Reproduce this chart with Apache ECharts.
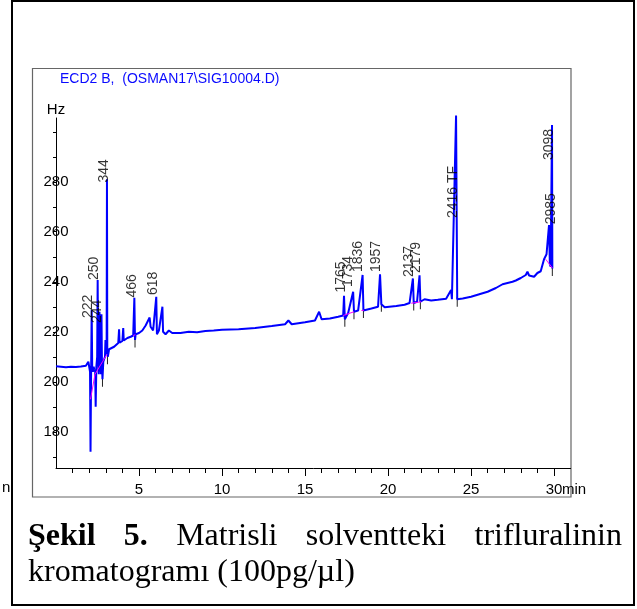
<!DOCTYPE html>
<html>
<head>
<meta charset="utf-8">
<script src="https://cdn.jsdelivr.net/npm/echarts@6/dist/echarts.min.js"></script>
<style>
html,body{margin:0;padding:0;background:#fff;}
#chart{width:637px;height:609px;}
</style>
</head>
<body>
<div id="chart"></div>
<script>
// ---- data (retention time in min, detector signal in Hz) ----
const traceEarly = [
  [0.0,206.2],[0.3,206.0],[0.6,205.8],[0.9,206.0],[1.2,205.9],[1.5,206.1],[1.8,206.4],[1.95,208],
  [2.0,206],[2.05,204],[2.08,172],[2.11,200],[2.15,228.7],[2.18,206],[2.22,204],[2.27,206],
  [2.30,205],[2.36,204],[2.39,190],[2.43,206],[2.48,210],[2.51,240.7],[2.54,208],[2.58,203],
  [2.62,228],[2.65,204],[2.68,226],[2.71,203],[2.74,227],[2.77,206],[2.80,201],[2.85,208],
  [2.90,209],[2.95,210],[2.98,216.7],[3.0,211],[3.05,212],[3.07,281],[3.09,212],[3.12,210],
  [3.2,213],[3.3,212.5],[3.5,214],[3.75,215.5],[3.8,221],[3.83,215.6],[4.0,216.3],[4.05,221.5],
  [4.08,216.5],[4.3,217.5],[4.5,218],[4.65,218.5],[4.72,233.6],[4.76,216.7],[4.8,219],[5.0,219.5],
  [5.2,220.5],[5.4,222.5],[5.5,222.8],[5.64,225.7],[5.7,222],[5.85,220.5],[5.95,220],[6.04,234],
  [6.08,219],[6.2,220.5],[6.3,219.8],[6.41,230],[6.45,220],[6.6,219],[6.8,220.5],[7.0,219.5]
];
const traceMid = [
  [7.5,219.5],[8.0,220],[8.5,219.8],[9.0,220.3],[9.5,220.5],[10.0,220.8],[11.0,221],[12.0,221.5],
  [13.0,222.3],[13.8,223],[14.0,224.5],[14.2,223],[15.0,223.8],[15.6,224.5],[15.85,228],[16.0,225],
  [16.5,225.3],[17.0,226],[17.3,226.5],[17.35,234.4],[17.4,225],[17.6,227.5],[17.9,236],[17.95,228],
  [18.2,228.5],[18.47,242.7],[18.52,228.5],[19.0,229.3],[19.4,230],[19.52,243],[19.6,231],[19.8,229.8],
  [20.5,230.3],[21.0,230.8],[21.3,231.5],[21.5,241.3],[21.55,231.5],[21.75,232],[21.9,242.6],[21.95,232]
];
const traceLate = [
  [22.2,233],[22.6,232.5],[23.0,232.8],[23.5,233.2],[23.8,236.7],[23.85,233],[24.1,306.5],[24.17,233],
  [24.5,233.3],[25.0,234],[25.5,235],[26.0,236],[26.5,237.5],[26.9,239],[27.2,239.5],[27.5,240],
  [27.7,240.5],[28.0,241.5],[28.3,242.7],[28.4,244],[28.5,242.5],[28.8,242],[29.0,243.5],[29.2,244.2],
  [29.4,249],[29.55,251],[29.7,262.7],[29.75,247],[29.8,246],[29.88,302.7],[29.9,245.3]
];
// integration baselines (magenta segments)
const baselineSegments = [
  [[2.08,193],[2.35,203],[2.8,208],[3.07,211]],
  [[4.65,218.5],[4.78,218.8]],
  [[17.3,226.5],[17.95,228]],
  [[18.4,228.5],[18.55,228.6]],
  [[21.4,231.4],[22.0,232]],
  [[29.5,249],[29.9,245.5]]
];
// peak start/end markers (time, signal at baseline)
const markerTimes  = [2.8, 3.1, 4.76, 17.4, 17.95, 18.52, 19.6, 21.55, 21.95, 24.17, 29.9];
const markerValues = [201, 210, 216.7, 225, 228, 228.5, 231, 231.5, 232, 233, 245.3];
// peak labels: anchor time, anchor signal (label foot), text
const labelTimes  = [1.95, 2.32, 2.47, 2.89, 4.58, 5.84, 17.15, 17.62, 18.19, 19.28, 21.3, 21.72, 23.9, 29.82, 29.7];
const labelValues = [225.5, 240.7, 223.5, 279.7, 233.7, 234.7, 235.7, 237.9, 243.9, 243.9, 241.9, 243.5, 265.5, 263, 288.7];
const labelTexts  = ['222','250','244','344','466','618','1765','1734','1836','1957','2137','2179','2416 TF','2985','3098'];
// axes
const xMinorTicks = [1,2,3,4,5,6,7,8,9,10,11,12,13,14,15,16,17,18,19,20,21,22,23,24,25,26,27,28,29,30];
const xMajorTicks = [5,10,15,20,25,30];
const yTicks  = [170,180,190,200,210,220,230,240,250,260,270,280,290,300];
const yLabels = [180,200,220,240,260,280];
const chartTitle = 'ECD2 B,  (OSMAN17\\SIG10004.D)';
const captionLine1 = [['Şekil', true], ['5.', true], ['Matrisli', false], ['solventteki', false], ['trifluralinin', false]];
const captionLine2 = 'kromatogramı (100pg/µl)';

// ---- build ----
const sans = '"Liberation Sans Narrow", "Arial Narrow", "Liberation Sans", Arial, sans-serif';
const serif = '"Liberation Serif", "Times New Roman", serif';
const trace = traceEarly.concat(traceMid, traceLate);
const baselineData = [];
baselineSegments.forEach(s => { s.forEach(p => baselineData.push(p)); baselineData.push(null); });
const markerData = [];
markerTimes.forEach((t, i) => { markerData.push([t, markerValues[i] + 1]); markerData.push([t, markerValues[i] - 3]); markerData.push(null); });
const labelData = labelTimes.map((t, i) => ({ value: [t, labelValues[i]], name: labelTexts[i] }));

// justified caption line
const capSize = 32;
const cv = document.createElement('canvas').getContext('2d');
const widths = captionLine1.map(([w, b]) => { cv.font = (b ? 'bold ' : '') + capSize + 'px ' + serif; return cv.measureText(w).width; });
const capLeft = 28, capRight = 622;
const gap = (capRight - capLeft - widths.reduce((a, b) => a + b, 0)) / (captionLine1.length - 1);
const captionEls = [];
let cx = capLeft;
captionLine1.forEach(([w, b], i) => {
  captionEls.push({ type: 'text', x: cx, y: 537, style: { text: w, font: (b ? 'bold ' : '') + capSize + 'px ' + serif, fill: '#000', textVerticalAlign: 'middle' } });
  cx += widths[i] + gap;
});
captionEls.push({ type: 'text', x: capLeft, y: 573, style: { text: captionLine2, font: capSize + 'px ' + serif, fill: '#000', textVerticalAlign: 'middle' } });

const chart = echarts.init(document.getElementById('chart'), null, { renderer: 'canvas' });
chart.setOption({
  animation: false,
  backgroundColor: '#fff',
  title: { text: chartTitle, left: 60, top: 72, padding: 0, textStyle: { color: '#0a0aff', fontSize: 14, fontWeight: 'normal', fontFamily: sans } },
  grid: { left: 56, top: 118, width: 514.6, height: 350, containLabel: false },
  xAxis: [
    { type: 'value', min: 0, max: 31, position: 'bottom',
      axisLine: { show: true, lineStyle: { color: '#000', width: 1 } },
      axisTick: { show: true, customValues: xMinorTicks, length: 5, lineStyle: { color: '#000' } },
      axisLabel: { show: false }, splitLine: { show: false } },
    { type: 'value', min: 0, max: 31, position: 'bottom',
      axisLine: { show: false },
      axisTick: { show: true, customValues: xMajorTicks, length: 8, lineStyle: { color: '#000' } },
      axisLabel: { show: true, customValues: xMajorTicks, margin: 14, fontSize: 15, color: '#000', fontFamily: sans },
      splitLine: { show: false } }
  ],
  yAxis: {
    type: 'value', min: 165.5, max: 305.5,
    name: 'Hz', nameLocation: 'end', nameGap: 1,
    nameTextStyle: { fontSize: 15, color: '#000', fontFamily: sans, align: 'center' },
    axisLine: { show: true, lineStyle: { color: '#000', width: 1 } },
    axisTick: { show: true, customValues: yTicks, length: 3, lineStyle: { color: '#000' } },
    axisLabel: { show: true, customValues: yLabels, align: 'center', margin: 0, fontSize: 15, color: '#000', fontFamily: sans },
    splitLine: { show: false }
  },
  series: [
    { type: 'line', name: 'ECD2 B', data: trace, xAxisIndex: 0, showSymbol: false, symbol: 'none', clip: false,
      lineStyle: { color: '#0000ff', width: 2 }, z: 3 },
    { type: 'line', name: 'baseline', data: baselineData, xAxisIndex: 0, symbol: 'none', connectNulls: false,
      lineStyle: { color: '#ff00ff', width: 1 }, z: 4 },
    { type: 'line', name: 'markers', data: markerData, xAxisIndex: 0, symbol: 'none', connectNulls: false,
      lineStyle: { color: '#222', width: 1 }, z: 2 },
    { type: 'scatter', name: 'labels', data: labelData, xAxisIndex: 0, symbolSize: 0, clip: false,
      label: { show: true, position: 'inside', rotate: 90, align: 'left', verticalAlign: 'middle',
        formatter: p => p.name, fontSize: 14, color: '#000', fontFamily: sans }, z: 5 }
  ],
  graphic: [
    { type: 'rect', shape: { x: 32.5, y: 68.5, width: 538.5, height: 428.5 }, style: { fill: null, stroke: '#666', lineWidth: 1.2 }, silent: true },
    { type: 'rect', shape: { x: 12, y: 1, width: 622, height: 604 }, style: { fill: null, stroke: '#000', lineWidth: 2 }, silent: true },
    { type: 'text', x: 562, y: 490, style: { text: 'min', font: '15px ' + sans, fill: '#000', textVerticalAlign: 'middle' } },
    { type: 'text', x: 2, y: 488, style: { text: 'n', font: '15px ' + sans, fill: '#000', textVerticalAlign: 'middle' } }
  ].concat(captionEls)
});
</script>
</body>
</html>
